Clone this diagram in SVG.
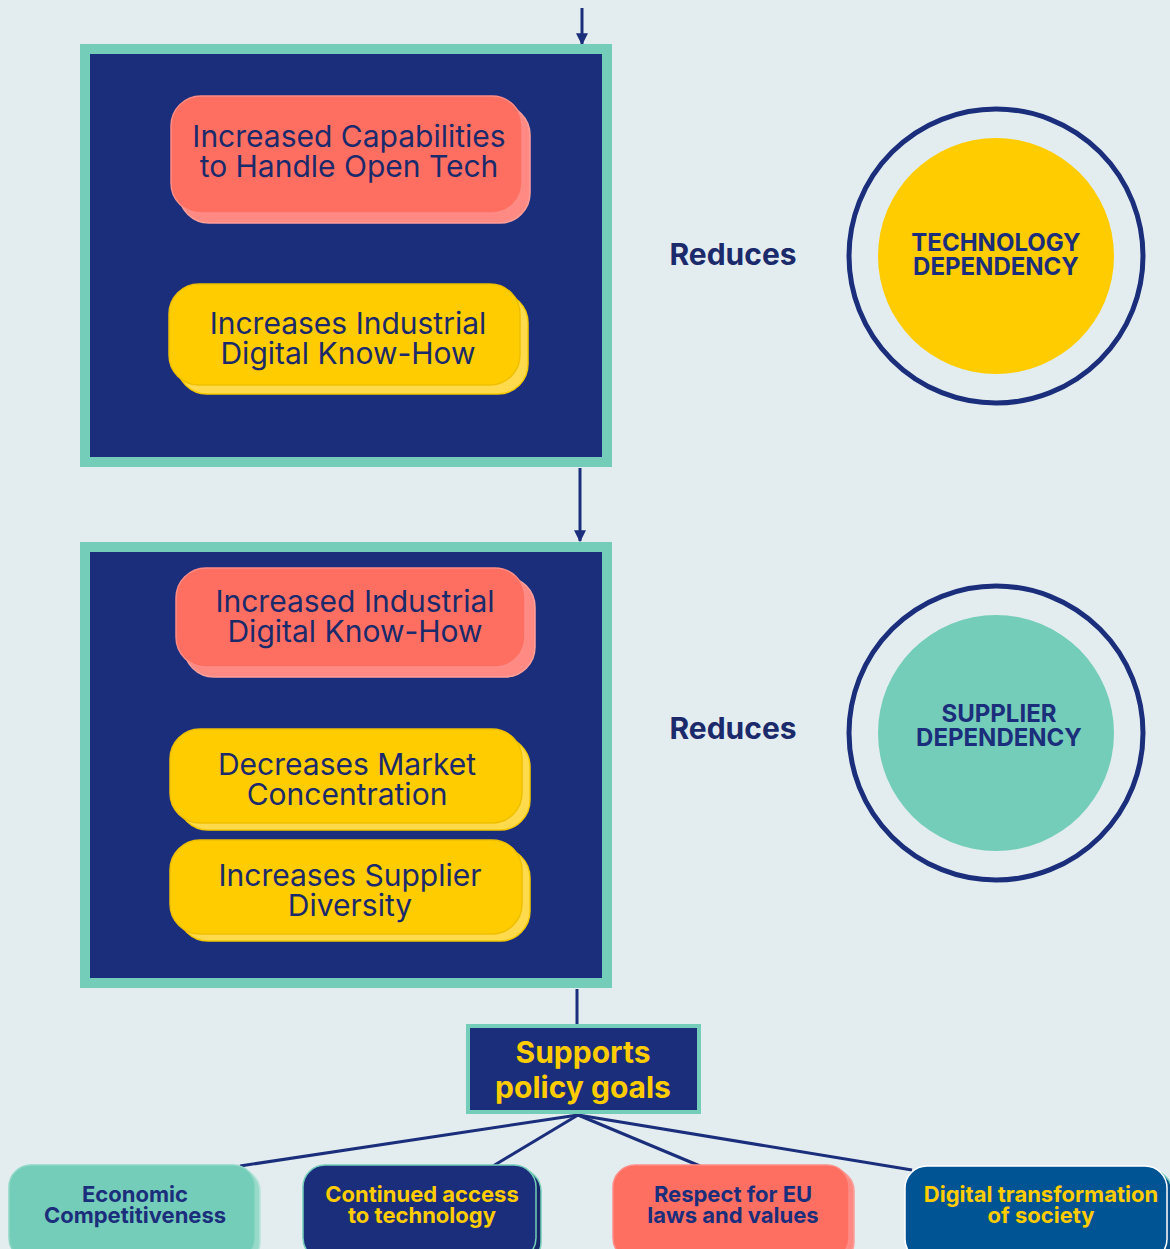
<svg xmlns="http://www.w3.org/2000/svg" width="1170" height="1249" viewBox="0 0 1170 1249">
  <defs>
    <marker id="arrow" viewBox="0 0 10 10" refX="9" refY="5" markerWidth="4" markerHeight="4" markerUnits="strokeWidth" orient="auto">
      <path d="M0,0 L10,5 L0,10 Z" fill="#1B2E7B"/>
    </marker>
    <style>
      .frame { fill: #1B2E7B; stroke: #74CDB8; stroke-width: 10; }
      .pill-red { fill: #FF6F61; stroke: #FF8C86; stroke-width: 1.5; }
      .pill-red-back { fill: #FF8A84; stroke: #FF9F99; stroke-width: 1.5; }
      .pill-yel { fill: #FFCC00; stroke: #F0C000; stroke-width: 1.5; }
      .pill-yel-back { fill: #FFDA4D; stroke: #F5C900; stroke-width: 1.5; }
      .pill-text { font-family: Inter, "Liberation Sans", sans-serif; font-size: 30px; fill: #1B2A6B; text-anchor: middle; }
      .reduces { font-family: Inter, "Liberation Sans", sans-serif; font-size: 30px; font-weight: 700; fill: #1B2A6B; text-anchor: middle; }
      .ring { fill: none; stroke: #1B2E7B; stroke-width: 5; }
      .circle-text { font-family: Inter, "Liberation Sans", sans-serif; font-size: 24px; font-weight: 700; fill: #1B2E7B; text-anchor: middle; }
      .goal-text { font-family: Inter, "Liberation Sans", sans-serif; font-size: 22px; font-weight: 700; text-anchor: middle; }
      .link { stroke: #1B2E7B; stroke-width: 3; fill: none; }
      .inner-link { stroke: #74CDB8; stroke-width: 3; fill: none; }
    </style>
  </defs>

  <rect width="1170" height="1249" fill="#E3EDF0"/>

  <!-- connectors -->
  <g id="connectors">
    <line class="link" x1="582" y1="8" x2="582" y2="44" marker-end="url(#arrow)"/>
    <line class="link" x1="580" y1="468" x2="580" y2="541" marker-end="url(#arrow)"/>
    <line class="inner-link" x1="348" y1="222" x2="348" y2="286"/>
    <line class="inner-link" x1="352" y1="676" x2="352" y2="732"/>
    <line class="link" x1="577" y1="989" x2="577" y2="1024"/>
    <line class="link" x1="578" y1="1115" x2="240" y2="1166"/>
    <line class="link" x1="578" y1="1115" x2="493" y2="1166"/>
    <line class="link" x1="578" y1="1115" x2="700" y2="1166"/>
    <line class="link" x1="578" y1="1115" x2="912" y2="1170"/>
  </g>

  <!-- upper group: capabilities -->
  <g id="group-capabilities">
    <rect class="frame" x="85" y="49" width="522" height="413"/>
  </g>
  <g id="node-capabilities">
    <rect class="pill-red-back" x="179" y="105" width="351" height="118" rx="30"/>
    <rect class="pill-red" x="171" y="96" width="351" height="117" rx="30"/>
    <text class="pill-text" x="349" y="147">Increased Capabilities</text>
    <text class="pill-text" x="349" y="177">to Handle Open Tech</text>
  </g>
  <g id="node-knowhow-1">
    <rect class="pill-yel-back" x="177" y="293" width="351" height="101" rx="30"/>
    <rect class="pill-yel" x="169" y="284" width="351" height="101" rx="30"/>
    <text class="pill-text" x="348" y="334">Increases Industrial</text>
    <text class="pill-text" x="348" y="364">Digital Know-How</text>
  </g>

  <!-- lower group: market -->
  <g id="group-market">
    <rect class="frame" x="85" y="547" width="522" height="436"/>
  </g>
  <g id="node-knowhow-2">
    <rect class="pill-red-back" x="184" y="577" width="351" height="100" rx="30"/>
    <rect class="pill-red" x="176" y="568" width="349" height="99" rx="30"/>
    <text class="pill-text" x="355" y="612">Increased Industrial</text>
    <text class="pill-text" x="355" y="642">Digital Know-How</text>
  </g>
  <g id="node-concentration">
    <rect class="pill-yel-back" x="178" y="737" width="352" height="93" rx="30"/>
    <rect class="pill-yel" x="170" y="729" width="352" height="94" rx="30"/>
    <text class="pill-text" x="347" y="775">Decreases Market</text>
    <text class="pill-text" x="347" y="805">Concentration</text>
  </g>
  <g id="node-diversity">
    <rect class="pill-yel-back" x="178" y="848" width="352" height="93" rx="30"/>
    <rect class="pill-yel" x="170" y="840" width="352" height="94" rx="30"/>
    <text class="pill-text" x="350" y="886">Increases Supplier</text>
    <text class="pill-text" x="350" y="916">Diversity</text>
  </g>

  <!-- effect labels -->
  <g id="label-reduces-1">
    <text class="reduces" x="733" y="265">Reduces</text>
  </g>
  <g id="label-reduces-2">
    <text class="reduces" x="733" y="739">Reduces</text>
  </g>

  <!-- dependencies -->
  <g id="node-technology-dependency">
    <circle class="ring" cx="996" cy="256" r="147"/>
    <circle cx="996" cy="256" r="118" fill="#FFCC00"/>
    <text class="circle-text" x="996" y="251">TECHNOLOGY</text>
    <text class="circle-text" x="996" y="275">DEPENDENCY</text>
  </g>
  <g id="node-supplier-dependency">
    <circle class="ring" cx="996" cy="733" r="147"/>
    <circle cx="996" cy="733" r="118" fill="#74CDB8"/>
    <text class="circle-text" x="999" y="722">SUPPLIER</text>
    <text class="circle-text" x="999" y="746">DEPENDENCY</text>
  </g>

  <!-- policy goals -->
  <g id="node-policy-goals">
    <rect x="468" y="1026" width="231" height="86" fill="#1B2E7B" stroke="#74CDB8" stroke-width="4"/>
    <text x="583" y="1063" font-family="Inter, 'Liberation Sans', sans-serif" font-size="30" font-weight="700" fill="#FFCC00" text-anchor="middle">Supports</text>
    <text x="583" y="1098" font-family="Inter, 'Liberation Sans', sans-serif" font-size="30" font-weight="700" fill="#FFCC00" text-anchor="middle">policy goals</text>
  </g>

  <g id="node-economic">
    <rect x="14" y="1169" width="246" height="95" rx="22" fill="#9ADACB" stroke="#B6E5DA" stroke-width="1.5"/>
    <rect x="9" y="1165" width="246" height="95" rx="22" fill="#74CDB8" stroke="#8FD7C6" stroke-width="1.5"/>
    <text class="goal-text" x="135" y="1202" fill="#1B2E7B">Economic</text>
    <text class="goal-text" x="135" y="1223" fill="#1B2E7B">Competitiveness</text>
  </g>
  <g id="node-access">
    <rect x="308" y="1169" width="233" height="95" rx="22" fill="#162666" stroke="#74CDB8" stroke-width="1.5"/>
    <rect x="303" y="1165" width="233" height="95" rx="22" fill="#1B2E7B" stroke="#74CDB8" stroke-width="1.5"/>
    <text class="goal-text" x="422" y="1202" fill="#FFCC00">Continued access</text>
    <text class="goal-text" x="422" y="1223" fill="#FFCC00">to technology</text>
  </g>
  <g id="node-values">
    <rect x="618" y="1169" width="236" height="95" rx="22" fill="#FF8A84" stroke="#FF9F99" stroke-width="1.5"/>
    <rect x="613" y="1165" width="236" height="95" rx="22" fill="#FF6F61" stroke="#FF8C86" stroke-width="1.5"/>
    <text class="goal-text" x="733" y="1202" fill="#1B2E7B">Respect for EU</text>
    <text class="goal-text" x="733" y="1223" fill="#1B2E7B">laws and values</text>
  </g>
  <g id="node-digital">
    <rect x="910" y="1170" width="262" height="95" rx="22" fill="#0A4F8A" stroke="#74CDB8" stroke-width="1.5"/>
    <rect x="905" y="1166" width="262" height="95" rx="22" fill="#005493" stroke="#FFFFFF" stroke-width="1.5"/>
    <text class="goal-text" x="1041" y="1202" fill="#FFCC00">Digital transformation</text>
    <text class="goal-text" x="1041" y="1223" fill="#FFCC00">of society</text>
  </g>
</svg>
